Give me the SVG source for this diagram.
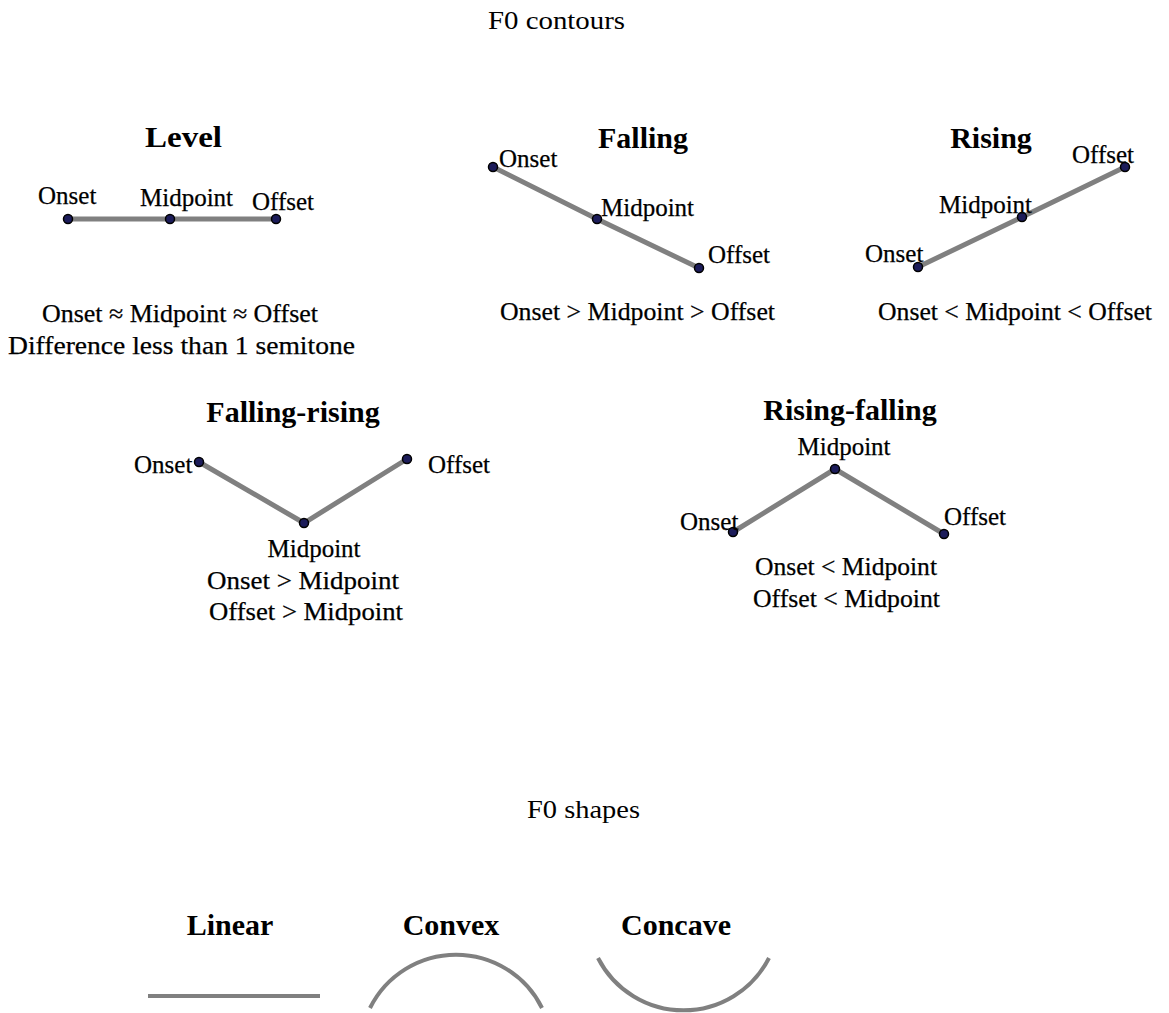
<svg xmlns="http://www.w3.org/2000/svg" width="1169" height="1013" viewBox="0 0 1169 1013">
<style>
text{font-family:"Liberation Serif","Times New Roman",serif;fill:#000}
.h{font-size:26px}
.t{font-size:30px;font-weight:bold}
.l{font-size:25px;stroke:#000;stroke-width:0.25}
.ln{stroke:#808080;stroke-width:5;fill:none;stroke-linecap:round}
.sh{stroke:#808080;stroke-width:4;fill:none}
.d{fill:#1c1c5a;stroke:#000;stroke-width:1.5}
</style>
<rect width="1169" height="1013" fill="#fff"/>
<text class="h" x="488" y="29" textLength="137" lengthAdjust="spacingAndGlyphs">F0 contours</text>
<text class="h" x="527" y="818" textLength="113" lengthAdjust="spacingAndGlyphs">F0 shapes</text>

<g id="connectors">
<polyline class="ln" points="68,219 170,219 276,219"/>
<polyline class="ln" points="493,167 597,219 699,268"/>
<polyline class="ln" points="918,267 1022,217 1125,167"/>
<polyline class="ln" points="199,462 304,523 407,459"/>
<polyline class="ln" points="733,532 835,469 944,534"/>
</g>

<g id="level">
<text class="t" x="145" y="147" textLength="77" lengthAdjust="spacingAndGlyphs">Level</text>
<circle class="d" cx="68" cy="219" r="4.5"/><circle class="d" cx="170" cy="219" r="4.5"/><circle class="d" cx="276" cy="219" r="4.5"/>
<text class="l" x="38" y="204">Onset</text>
<text class="l" x="140" y="206">Midpoint</text>
<text class="l" x="252" y="210">Offset</text>
<text class="l" x="42" y="322" textLength="276" lengthAdjust="spacingAndGlyphs">Onset ≈ Midpoint ≈ Offset</text>
<text class="l" x="8" y="354" textLength="347" lengthAdjust="spacingAndGlyphs">Difference less than 1 semitone</text>
</g>

<g id="falling">
<text class="t" x="643" y="148" text-anchor="middle">Falling</text>
<circle class="d" cx="493" cy="167" r="4.5"/><circle class="d" cx="597" cy="219" r="4.5"/><circle class="d" cx="699" cy="268" r="4.5"/>
<text class="l" x="499" y="167">Onset</text>
<text class="l" x="601" y="216">Midpoint</text>
<text class="l" x="708" y="263">Offset</text>
<text class="l" x="500" y="320" textLength="275" lengthAdjust="spacingAndGlyphs">Onset &gt; Midpoint &gt; Offset</text>
</g>

<g id="rising">
<text class="t" x="991" y="148" text-anchor="middle">Rising</text>
<circle class="d" cx="918" cy="267" r="4.5"/><circle class="d" cx="1022" cy="217" r="4.5"/><circle class="d" cx="1125" cy="167" r="4.5"/>
<text class="l" x="865" y="262">Onset</text>
<text class="l" x="939" y="213">Midpoint</text>
<text class="l" x="1072" y="163">Offset</text>
<text class="l" x="878" y="320" textLength="274" lengthAdjust="spacingAndGlyphs">Onset &lt; Midpoint &lt; Offset</text>
</g>

<g id="falling-rising">
<text class="t" x="293" y="422" text-anchor="middle">Falling-rising</text>
<circle class="d" cx="199" cy="462" r="4.5"/><circle class="d" cx="304" cy="523" r="4.5"/><circle class="d" cx="407" cy="459" r="4.5"/>
<text class="l" x="134" y="473">Onset</text>
<text class="l" x="428" y="473">Offset</text>
<text class="l" x="314" y="557" text-anchor="middle">Midpoint</text>
<text class="l" x="207" y="589" textLength="192" lengthAdjust="spacingAndGlyphs">Onset &gt; Midpoint</text>
<text class="l" x="209" y="620" textLength="194" lengthAdjust="spacingAndGlyphs">Offset &gt; Midpoint</text>
</g>

<g id="rising-falling">
<text class="t" x="850" y="420" text-anchor="middle">Rising-falling</text>
<circle class="d" cx="733" cy="532" r="4.5"/><circle class="d" cx="835" cy="469" r="4.5"/><circle class="d" cx="944" cy="534" r="4.5"/>
<text class="l" x="844" y="455" text-anchor="middle">Midpoint</text>
<text class="l" x="680" y="530">Onset</text>
<text class="l" x="944" y="525">Offset</text>
<text class="l" x="755" y="575" textLength="182" lengthAdjust="spacingAndGlyphs">Onset &lt; Midpoint</text>
<text class="l" x="753" y="607" textLength="187" lengthAdjust="spacingAndGlyphs">Offset &lt; Midpoint</text>
</g>

<g id="linear">
<text class="t" x="230" y="935" text-anchor="middle">Linear</text>
<line class="sh" x1="148" y1="996" x2="320" y2="996" stroke-width="5"/>
</g>
<g id="convex">
<text class="t" x="451" y="935" text-anchor="middle">Convex</text>
<path class="sh" d="M370,1008 A96,96 0 0 1 542,1008"/>
</g>
<g id="concave">
<text class="t" x="676" y="935" text-anchor="middle">Concave</text>
<path class="sh" d="M598,958 A96,96 0 0 0 769,958"/>
</g>
</svg>
